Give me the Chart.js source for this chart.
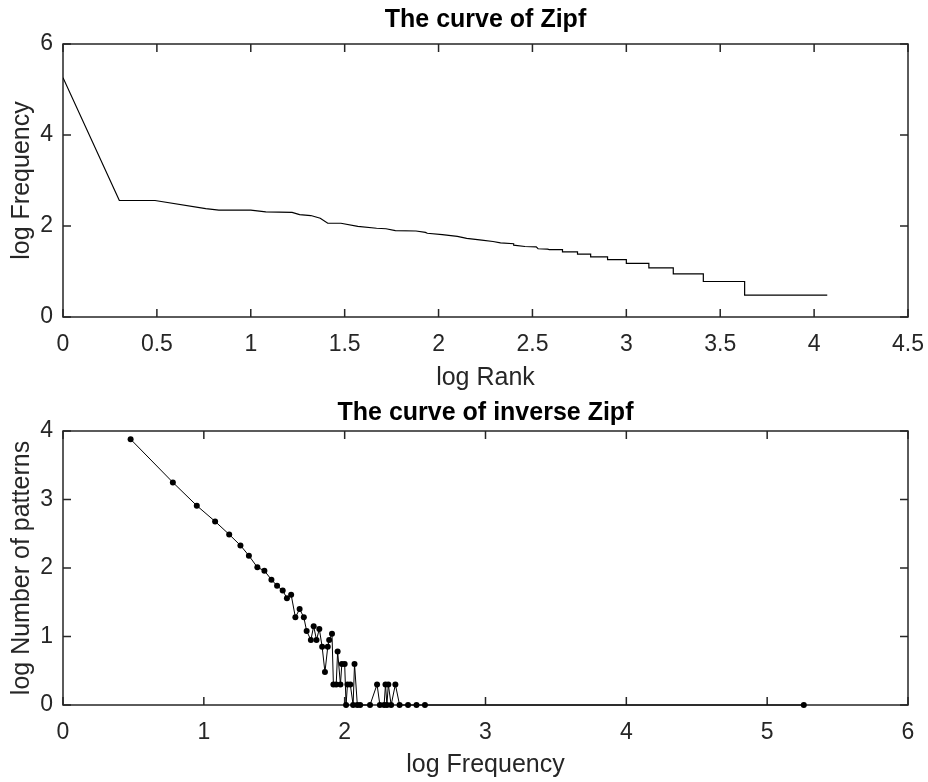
<!DOCTYPE html>
<html>
<head>
<meta charset="utf-8">
<script src="https://cdn.jsdelivr.net/npm/chart.js@4.4.1/dist/chart.umd.min.js"></script>
<style>
  html, body { margin: 0; padding: 0; background: #fff; }
  #wrap { position: relative; width: 928px; height: 782px; }
  .panel { position: absolute; left: 0; width: 928px; height: 391px; }
</style>
</head>
<body>
<div id="wrap">
  <div class="panel" style="top:0"><canvas id="zipf"></canvas></div>
  <div class="panel" style="top:391px"><canvas id="inverse"></canvas></div>
</div>
<script>
// top panel: log rank vs log frequency (corners of the curve)
const zipfLogRank = [0, 0.30, 0.49, 0.76, 0.83, 1.00, 1.08, 1.22, 1.26, 1.32, 1.37, 1.41, 1.48,
  1.57, 1.67, 1.72, 1.77, 1.88, 1.93, 1.94, 2.02, 2.10, 2.15, 2.23, 2.29, 2.33, 2.40, 2.40,
  2.46, 2.52, 2.53, 2.58, 2.59, 2.66, 2.66, 2.74, 2.74, 2.81, 2.81, 2.90, 2.90, 3.00, 3.00,
  3.12, 3.12, 3.25, 3.25, 3.41, 3.41, 3.63, 3.63, 4.07];
const zipfLogFreq = [5.26, 2.56, 2.56, 2.38, 2.35, 2.35, 2.31, 2.30, 2.25, 2.23, 2.17, 2.06, 2.06,
  1.99, 1.95, 1.94, 1.90, 1.89, 1.86, 1.84, 1.81, 1.77, 1.73, 1.69, 1.66, 1.63, 1.61, 1.58,
  1.55, 1.54, 1.50, 1.49, 1.48, 1.48, 1.43, 1.43, 1.38, 1.38, 1.32, 1.32, 1.26, 1.26, 1.18,
  1.18, 1.08, 1.08, 0.95, 0.95, 0.78, 0.78, 0.48, 0.48];

// bottom panel: log frequency vs log number of patterns
const invLogFreq = [0.48, 0.78, 0.95, 1.08, 1.18, 1.26, 1.32, 1.38, 1.43, 1.48, 1.52, 1.56, 1.59,
  1.62, 1.65, 1.68, 1.71, 1.73, 1.76, 1.78, 1.80, 1.82, 1.84, 1.86, 1.88, 1.89, 1.91, 1.92,
  1.94, 1.95, 1.97, 1.98, 2.00, 2.01, 2.02, 2.04, 2.06, 2.07, 2.09, 2.11, 2.18, 2.23, 2.25,
  2.28, 2.29, 2.30, 2.31, 2.33, 2.36, 2.39, 2.45, 2.51, 2.57, 5.26];
const invLogCount = [3.88, 3.25, 2.91, 2.68, 2.49, 2.33, 2.18, 2.01, 1.96, 1.83, 1.74, 1.67, 1.56,
  1.61, 1.28, 1.40, 1.28, 1.08, 0.95, 1.15, 0.95, 1.11, 0.85, 0.48, 0.85, 0.95, 1.04, 0.30,
  0.30, 0.78, 0.30, 0.60, 0.60, 0, 0.30, 0.30, 0, 0.60, 0, 0, 0, 0.30, 0,
  0, 0.30, 0, 0.30, 0, 0.30, 0, 0, 0, 0, 0];

const FONT = "'Liberation Sans', Arial, Helvetica, sans-serif";
const AX = '#262626';

function pts(xs, ys) {
  return xs.map((x, i) => ({ x: x, y: ys[i] }));
}

function tickText(v) {
  return String(Math.round(v * 100) / 100);
}

// MATLAB-like box with inward ticks on all four sides
const boxPlugin = {
  id: 'box',
  beforeDatasetsDraw(chart) {
    const ctx = chart.ctx;
    const a = chart.chartArea;
    const len = 8;
    ctx.save();
    ctx.strokeStyle = AX;
    ctx.lineWidth = 1.5;
    ctx.strokeRect(a.left, a.top, a.right - a.left, a.bottom - a.top);
    ctx.beginPath();
    chart.scales.x.ticks.forEach(t => {
      const px = chart.scales.x.getPixelForValue(t.value);
      ctx.moveTo(px, a.bottom); ctx.lineTo(px, a.bottom - len);
      ctx.moveTo(px, a.top); ctx.lineTo(px, a.top + len);
    });
    chart.scales.y.ticks.forEach(t => {
      const py = chart.scales.y.getPixelForValue(t.value);
      ctx.moveTo(a.left, py); ctx.lineTo(a.left + len, py);
      ctx.moveTo(a.right, py); ctx.lineTo(a.right - len, py);
    });
    ctx.stroke();
    ctx.restore();
  }
};

function makeChart(id, cfg) {
  return new Chart(document.getElementById(id), {
    type: 'scatter',
    data: { datasets: [cfg.dataset] },
    options: {
      responsive: true,
      maintainAspectRatio: false,
      animation: false,
      layout: { padding: { left: 0, right: 20, top: 0, bottom: 0 } },
      plugins: {
        legend: { display: false },
        tooltip: { enabled: false }
      },
      scales: {
        x: {
          type: 'linear',
          min: cfg.xMin, max: cfg.xMax,
          afterFit: s => { s.height = cfg.xAxisH; s.paddingLeft = 0; s.paddingRight = 0; },
          grid: { display: false, drawTicks: false },
          border: { display: false },
          ticks: { stepSize: cfg.xStep, color: AX, padding: 14, maxRotation: 0,
                   callback: tickText, font: { family: FONT, size: 23 } },
          title: { display: true, text: cfg.xTitle, color: AX,
                   font: { family: FONT, size: 25, lineHeight: 1 },
                   padding: { top: 0, bottom: cfg.xTitleBottom } }
        },
        // top axis only carries the plot title, centred over the axes box
        top: {
          type: 'linear',
          position: 'top',
          min: cfg.xMin, max: cfg.xMax,
          afterFit: s => { s.height = cfg.topH; s.paddingLeft = 0; s.paddingRight = 0; },
          grid: { display: false, drawTicks: false },
          border: { display: false },
          ticks: { display: false },
          title: { display: true, text: cfg.title, color: '#000',
                   font: { family: FONT, size: 25, weight: 'bold', lineHeight: 1.2 },
                   padding: { top: cfg.titleTop, bottom: 0 } }
        },
        y: {
          type: 'linear',
          min: cfg.yMin, max: cfg.yMax,
          afterFit: s => { s.width = 63; },
          grid: { display: false, drawTicks: false },
          border: { display: false },
          ticks: { stepSize: cfg.yStep, color: AX, padding: 10,
                   callback: tickText, font: { family: FONT, size: 23 } },
          title: { display: true, text: cfg.yTitle, color: AX,
                   font: { family: FONT, size: 25, lineHeight: 1 },
                   padding: { top: 9.5, bottom: 0 } }
        }
      }
    },
    plugins: [boxPlugin]
  });
}

makeChart('zipf', {
  title: 'The curve of Zipf',
  topH: 44, titleTop: 5,
  xTitle: 'log Rank', yTitle: 'log Frequency',
  xMin: 0, xMax: 4.5, xStep: 0.5,
  yMin: 0, yMax: 6, yStep: 2,
  xAxisH: 74, xTitleBottom: 0.5,
  dataset: {
    data: pts(zipfLogRank, zipfLogFreq),
    showLine: true,
    borderColor: '#000',
    borderWidth: 1.2,
    pointRadius: 0,
    tension: 0
  }
});

makeChart('inverse', {
  title: 'The curve of inverse Zipf',
  topH: 40, titleTop: 7,
  xTitle: 'log Frequency', yTitle: 'log Number of patterns',
  xMin: 0, xMax: 6, xStep: 1,
  yMin: 0, yMax: 4, yStep: 1,
  xAxisH: 77, xTitleBottom: 4.5,
  dataset: {
    data: pts(invLogFreq, invLogCount),
    showLine: true,
    borderColor: '#000',
    borderWidth: 1,
    pointRadius: 3,
    pointBorderWidth: 0,
    pointBackgroundColor: '#000',
    tension: 0,
    clip: false
  }
});
</script>
</body>
</html>
